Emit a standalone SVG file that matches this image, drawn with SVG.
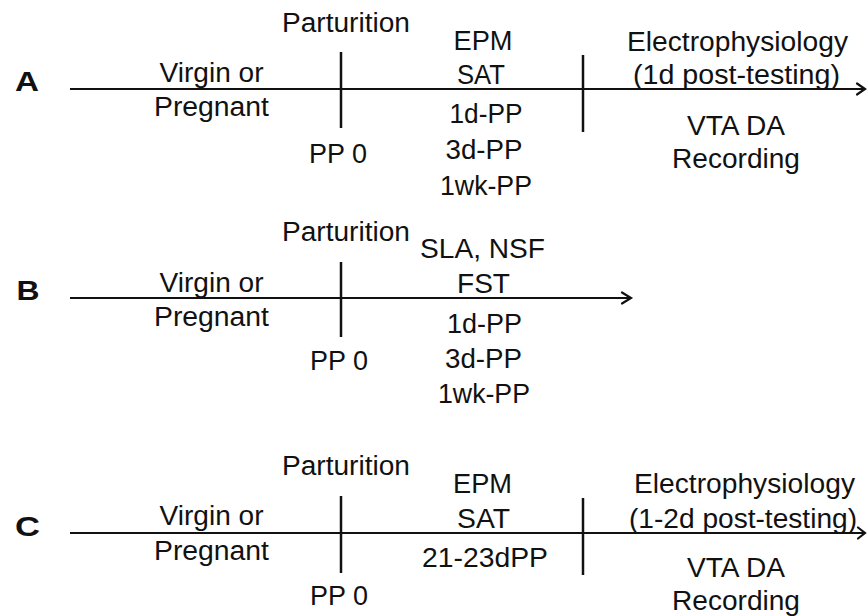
<svg xmlns="http://www.w3.org/2000/svg" width="867" height="616" viewBox="0 0 867 616">
<style>
text{font-family:"Liberation Sans",Arial,Helvetica,sans-serif;font-size:27px;fill:#111;text-anchor:middle}
.lab{font-weight:bold;font-size:28px}
.ln{stroke:#111;stroke-width:2;fill:none}
.tick{stroke:#111;stroke-width:2.5;fill:none}
.ah{stroke:#111;stroke-width:2.2;fill:none;stroke-linecap:round;stroke-linejoin:miter}
</style>
<rect width="867" height="616" fill="#fff"/>
<g id="connectors">
  <line class="ln" x1="70" y1="89" x2="865" y2="89"/>
  <polyline class="ah" points="857,83.5 865,89 857,94.5"/>
  <line class="tick" x1="341" y1="52" x2="341" y2="128"/>
  <line class="tick" x1="583" y1="55" x2="583" y2="132"/>
  <line class="ln" x1="70" y1="298" x2="631" y2="298"/>
  <polyline class="ah" points="622,292.5 631,298 622,303.5"/>
  <line class="tick" x1="341" y1="262" x2="341" y2="337"/>
  <line class="ln" x1="70" y1="533" x2="865" y2="533"/>
  <polyline class="ah" points="858,527.5 865,533 858,538.5"/>
  <line class="tick" x1="341" y1="496" x2="341" y2="573"/>
  <line class="tick" x1="583" y1="498" x2="583" y2="575"/>
</g>
<g id="panelA">
  <g id="A-label"><text class="lab" x="27" y="91" textLength="24" lengthAdjust="spacingAndGlyphs">A</text></g>
  <g id="A-parturition"><text x="346" y="32" textLength="128" lengthAdjust="spacingAndGlyphs">Parturition</text></g>
  <g id="A-virgin"><text x="211.5" y="82" textLength="104" lengthAdjust="spacingAndGlyphs">Virgin or</text><text x="211.5" y="116" textLength="115" lengthAdjust="spacingAndGlyphs">Pregnant</text></g>
  <g id="A-pp0"><text x="338" y="163" textLength="58" lengthAdjust="spacingAndGlyphs">PP 0</text></g>
  <g id="A-tests"><text x="483" y="50" textLength="59" lengthAdjust="spacingAndGlyphs">EPM</text><text x="481" y="84" textLength="48" lengthAdjust="spacingAndGlyphs">SAT</text><text x="486" y="123" textLength="73" lengthAdjust="spacingAndGlyphs">1d-PP</text><text x="484" y="159" textLength="77" lengthAdjust="spacingAndGlyphs">3d-PP</text><text x="486" y="195" textLength="92" lengthAdjust="spacingAndGlyphs">1wk-PP</text></g>
  <g id="A-ephys"><text x="737.5" y="51" textLength="221" lengthAdjust="spacingAndGlyphs">Electrophysiology</text><text x="736.5" y="84" textLength="207" lengthAdjust="spacingAndGlyphs">(1d post-testing)</text></g>
  <g id="A-vta"><text x="736" y="135" textLength="98" lengthAdjust="spacingAndGlyphs">VTA DA</text><text x="736" y="168" textLength="128" lengthAdjust="spacingAndGlyphs">Recording</text></g>
</g>
<g id="panelB">
  <g id="B-label"><text class="lab" x="28" y="300" textLength="23" lengthAdjust="spacingAndGlyphs">B</text></g>
  <g id="B-parturition"><text x="346" y="241" textLength="128" lengthAdjust="spacingAndGlyphs">Parturition</text></g>
  <g id="B-virgin"><text x="211.5" y="292" textLength="104" lengthAdjust="spacingAndGlyphs">Virgin or</text><text x="211.5" y="326" textLength="115" lengthAdjust="spacingAndGlyphs">Pregnant</text></g>
  <g id="B-pp0"><text x="339" y="370" textLength="58" lengthAdjust="spacingAndGlyphs">PP 0</text></g>
  <g id="B-tests"><text x="482.5" y="258" textLength="125" lengthAdjust="spacingAndGlyphs">SLA, NSF</text><text x="483.5" y="293" textLength="53" lengthAdjust="spacingAndGlyphs">FST</text><text x="484.5" y="333" textLength="75" lengthAdjust="spacingAndGlyphs">1d-PP</text><text x="483.5" y="368" textLength="77" lengthAdjust="spacingAndGlyphs">3d-PP</text><text x="484" y="403" textLength="92" lengthAdjust="spacingAndGlyphs">1wk-PP</text></g>
</g>
<g id="panelC">
  <g id="C-label"><text class="lab" x="27.5" y="536" textLength="25" lengthAdjust="spacingAndGlyphs">C</text></g>
  <g id="C-parturition"><text x="346" y="475" textLength="128" lengthAdjust="spacingAndGlyphs">Parturition</text></g>
  <g id="C-virgin"><text x="211.5" y="525" textLength="104" lengthAdjust="spacingAndGlyphs">Virgin or</text><text x="211.5" y="560" textLength="115" lengthAdjust="spacingAndGlyphs">Pregnant</text></g>
  <g id="C-pp0"><text x="339" y="605" textLength="58" lengthAdjust="spacingAndGlyphs">PP 0</text></g>
  <g id="C-tests"><text x="482.5" y="493" textLength="59" lengthAdjust="spacingAndGlyphs">EPM</text><text x="483.5" y="528" textLength="53" lengthAdjust="spacingAndGlyphs">SAT</text><text x="485" y="567" textLength="126" lengthAdjust="spacingAndGlyphs">21-23dPP</text></g>
  <g id="C-ephys"><text x="744.5" y="493" textLength="221" lengthAdjust="spacingAndGlyphs">Electrophysiology</text><text x="743" y="528" textLength="228" lengthAdjust="spacingAndGlyphs">(1-2d post-testing)</text></g>
  <g id="C-vta"><text x="736" y="577" textLength="98" lengthAdjust="spacingAndGlyphs">VTA DA</text><text x="736" y="610" textLength="128" lengthAdjust="spacingAndGlyphs">Recording</text></g>
</g>
</svg>
